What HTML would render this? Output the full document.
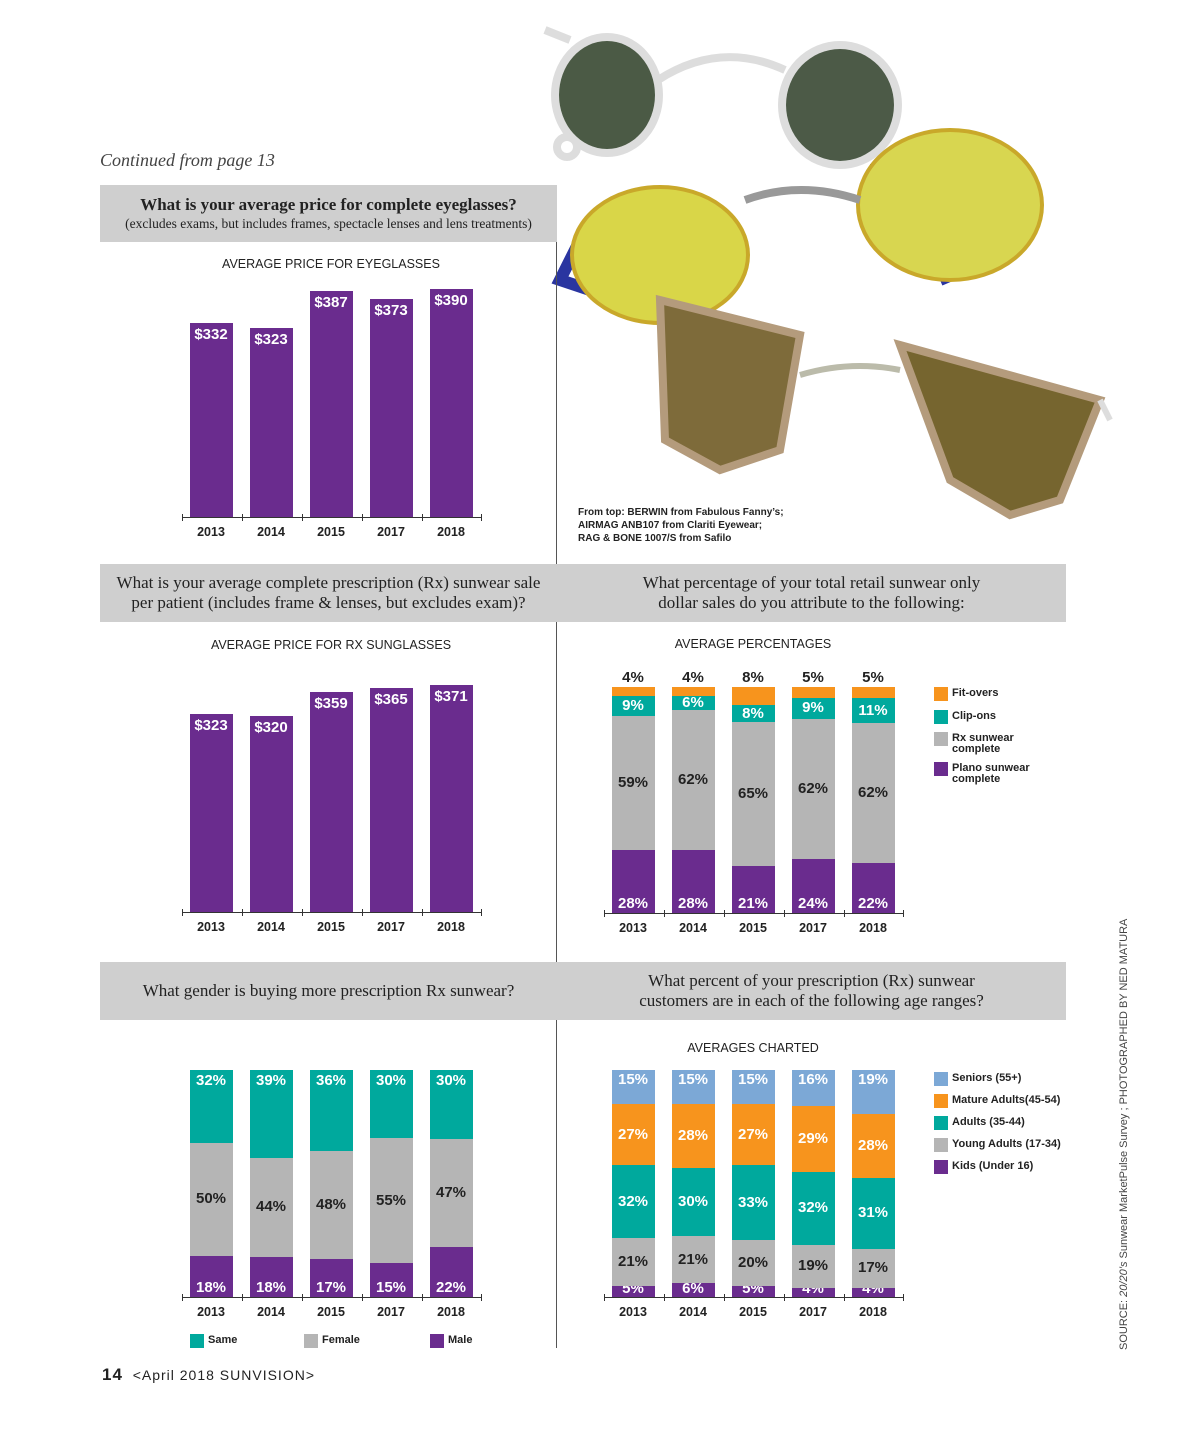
<!DOCTYPE html>
<html><head><meta charset="utf-8">
<style>
body{margin:0;width:1200px;height:1450px;background:#fff;position:relative;overflow:hidden;font-family:"Liberation Sans",sans-serif}
.a{position:absolute}
.hdr{position:absolute;background:#cfcfcf;font-family:"Liberation Serif",serif;color:#222;text-align:center;display:flex;flex-direction:column;justify-content:center;font-size:17px;line-height:20px}
.ct{position:absolute;font-size:12.5px;color:#222;text-align:center;width:300px}
.lbl{position:absolute;font-weight:bold;font-size:15px;text-align:center;width:60px;margin-left:-30px;line-height:16px}
.yr{position:absolute;font-weight:bold;font-size:12.5px;text-align:center;width:60px;margin-left:-30px;color:#222}
.lg{position:absolute;font-weight:bold;font-size:11px;line-height:11px;color:#222}
.sw{position:absolute;width:14px;height:14px}
</style></head><body>
<svg class="a" style="left:540px;top:0" width="600" height="540">
 <g fill="none" stroke="#ddd" stroke-width="8">
  <ellipse cx="67" cy="95" rx="52" ry="58"/><ellipse cx="300" cy="105" rx="58" ry="60"/>
  <path d="M118 80 Q180 40 245 70"/><path d="M30 40 L5 30"/><circle cx="27" cy="147" r="10"/>
 </g>
 <ellipse cx="67" cy="95" rx="48" ry="54" fill="#4b5a45"/><ellipse cx="300" cy="105" rx="54" ry="56" fill="#4c5a47"/>
 <path d="M45 230 L20 280 L80 300 M330 170 L460 170 L470 250 L400 280" stroke="#2a35a0" stroke-width="12" fill="none"/>
 <ellipse cx="120" cy="255" rx="88" ry="68" fill="#d9d648" stroke="#c9a82a" stroke-width="4"/>
 <ellipse cx="410" cy="205" rx="92" ry="75" fill="#d8d650" stroke="#c9a82a" stroke-width="4"/>
 <path d="M205 200 Q260 180 320 200" stroke="#999" stroke-width="8" fill="none"/>
 <path d="M120 300 L260 335 L240 450 L180 470 L125 440 Z" fill="#7e6b3a" stroke="#b49b7c" stroke-width="8"/>
 <path d="M360 345 L560 400 L520 500 L470 515 L410 480 Z" fill="#76652f" stroke="#b49b7c" stroke-width="8"/>
 <path d="M260 375 Q310 360 360 370" stroke="#bba" stroke-width="6" fill="none"/>
 <path d="M560 400 L570 420" stroke="#ddd" stroke-width="6"/>
</svg>
<div class="a" style="left:578px;top:506px;font-size:10px;font-weight:bold;line-height:13px;color:#222">From top: BERWIN from Fabulous Fanny’s;<br>AIRMAG ANB107 from Clariti Eyewear;<br>RAG &amp; BONE 1007/S from Safilo</div>
<div class="a" style="left:100px;top:150px;font-family:'Liberation Serif',serif;font-style:italic;font-size:18px;color:#444">Continued from page 13</div>
<div class="a" style="left:556px;top:185px;width:1px;height:1163px;background:#555"></div>
<div class="hdr" style="left:100px;top:185px;width:457px;height:57px"><div style="font-weight:bold">What is your average price for complete eyeglasses?</div><div style="font-size:13.5px;line-height:17px">(excludes exams, but includes frames, spectacle lenses and lens treatments)</div></div>
<div class="hdr" style="left:100px;top:564px;width:457px;height:58px"><div>What is your average complete prescription (Rx) sunwear sale<br>per patient (includes frame &amp; lenses, but excludes exam)?</div></div>
<div class="hdr" style="left:557px;top:564px;width:509px;height:58px"><div>What percentage of your total retail sunwear only<br>dollar sales do you attribute to the following:</div></div>
<div class="hdr" style="left:100px;top:962px;width:457px;height:58px"><div>What gender is buying more prescription Rx sunwear?</div></div>
<div class="hdr" style="left:557px;top:962px;width:509px;height:58px"><div>What percent of your prescription (Rx) sunwear<br>customers are in each of the following age ranges?</div></div>
<div class="ct" style="left:181px;top:257px">AVERAGE PRICE FOR EYEGLASSES</div>
<div class="ct" style="left:181px;top:638px">AVERAGE PRICE FOR RX SUNGLASSES</div>
<div class="ct" style="left:603px;top:637px">AVERAGE PERCENTAGES</div>
<div class="ct" style="left:603px;top:1041px">AVERAGES CHARTED</div>
<div class="a" style="left:1118px;top:1350px;transform:rotate(-90deg);transform-origin:0 0;font-size:11px;color:#444;white-space:nowrap">SOURCE: <i>20/20’s</i> Sunwear MarketPulse Survey ; PHOTOGRAPHED BY NED MATURA</div>
<div class="a" style="left:102px;top:1365px;font-size:14px;color:#222;letter-spacing:1px"><b style="font-size:17px">14</b> &nbsp;&lt;April 2018 SUNVISION&gt;</div>
<div id="charts"></div>
<script>
const years=['2013','2014','2015','2017','2018'];
const eyePrices=[332,323,387,373,390];
const rxPrices=[323,320,359,365,371];
const fitovers=[4,4,8,5,5];
const clipons=[9,6,8,9,11];
const rxComplete=[59,62,65,62,62];
const plano=[28,28,21,24,22];
const genderSame=[32,39,36,30,30];
const genderFemale=[50,44,48,55,47];
const genderMale=[18,18,17,15,22];
const seniors=[15,15,15,16,19];
const mature=[27,28,27,29,28];
const adults=[32,30,33,32,31];
const young=[21,21,20,19,17];
const kids=[5,6,5,4,4];
const C={p:'#6a2c8e',t:'#00a99d',g:'#b5b5b5',o:'#f7941d',b:'#7ca8d6'};
const root=document.getElementById('charts');
function mk(cls,css,name,txt){const d=document.createElement('div');d.className=cls;d.style.cssText=css;


if(txt!==undefined)d.textContent=txt;root.appendChild(d);return d;}
function axis(x0,base,pre){
 mk('a',`left:${x0-8}px;top:${base}px;width:299px;height:1px;background:#333`,pre+'-x-axis');
 for(let i=0;i<=5;i++)mk('a',`left:${x0-8+i*60-(i==5?1:0)}px;top:${base-3}px;width:1px;height:7px;background:#333`,pre+'-tick');
 years.forEach((y,i)=>mk('yr',`left:${x0+21+i*60}px;top:${base+8}px`,pre+'-year-label',y));
}
function priceChart(vals,x0,base,scale,pre){
 vals.forEach((v,i)=>{const h=v*scale,x=x0+i*60;
  mk('a',`left:${x}px;top:${base-h}px;width:43px;height:${h}px;background:${C.p}`,pre+'-bar-'+years[i]);
  mk('lbl',`left:${x+21}px;top:${base-h+4}px;color:#fff`,pre+'-value-label','$'+v);});
 axis(x0,base,pre);
}
priceChart(eyePrices,190,517,0.584,'eyeglasses');
priceChart(rxPrices,190,912,0.613,'rx-sunglasses');
function stacked(series,x0,base,H,pre,labelMode){
 years.forEach((y,i)=>{const tot=series.reduce((s,a)=>s+a.v[i],0);let cur=base;const x=x0+i*60;
  series.forEach((s,k)=>{const h=s.v[i]/tot*H;const top=cur-h;
   mk('a',`left:${x}px;top:${top}px;width:43px;height:${h}px;background:${s.c}`,pre+'-'+s.n+'-'+y);
   let ly=top+h/2-8;
   if(labelMode=='mix'){ if(k==0)ly=base-17; else if(k==series.length-1&&labelMode=='mix'&&s.above)ly=top-17; else if(k==series.length-1)ly=top+3;}
   if(labelMode=='age'&&k==0)ly=base-16;
   if(labelMode=='age'&&k==series.length-1)ly=top+2;
   mk('lbl',`left:${x+21}px;top:${ly}px;color:${s.tc}`,pre+'-'+s.n+'-label',s.v[i]+'%');
   cur=top;});});
 axis(x0,base,pre);
}
stacked([{n:'plano',v:plano,c:C.p,tc:'#fff'},{n:'rx',v:rxComplete,c:C.g,tc:'#222'},{n:'clipons',v:clipons,c:C.t,tc:'#fff'},{n:'fitovers',v:fitovers,c:C.o,tc:'#222',above:true}],612,913,226,'sunwear','mix');
stacked([{n:'male',v:genderMale,c:C.p,tc:'#fff'},{n:'female',v:genderFemale,c:C.g,tc:'#222'},{n:'same',v:genderSame,c:C.t,tc:'#fff'}],190,1297,227,'gender','mix');
stacked([{n:'kids',v:kids,c:C.p,tc:'#fff'},{n:'young',v:young,c:C.g,tc:'#222'},{n:'adults',v:adults,c:C.t,tc:'#fff'},{n:'mature',v:mature,c:C.o,tc:'#fff'},{n:'seniors',v:seniors,c:C.b,tc:'#fff'}],612,1297,227,'age','age');
function legend(items,x,pre){items.forEach(it=>{
 mk('sw',`left:${x}px;top:${it[2]}px;background:${it[1]}`,pre+'-legend-swatch');
 mk('lg',`left:${x+18}px;top:${it[2]+1}px`,pre+'-legend-entry').innerHTML=it[0];});}
legend([['Fit-overs',C.o,687],['Clip-ons',C.t,710],['Rx sunwear<br>complete',C.g,732],['Plano sunwear<br>complete',C.p,762]],934,'sunwear');
legend([['Seniors (55+)',C.b,1072],['Mature Adults(45-54)',C.o,1094],['Adults (35-44)',C.t,1116],['Young Adults (17-34)',C.g,1138],['Kids (Under 16)',C.p,1160]],934,'age');
legend([['Same',C.t,1334]],190,'gender');legend([['Female',C.g,1334]],304,'gender');legend([['Male',C.p,1334]],430,'gender');
</script>
</body></html>
